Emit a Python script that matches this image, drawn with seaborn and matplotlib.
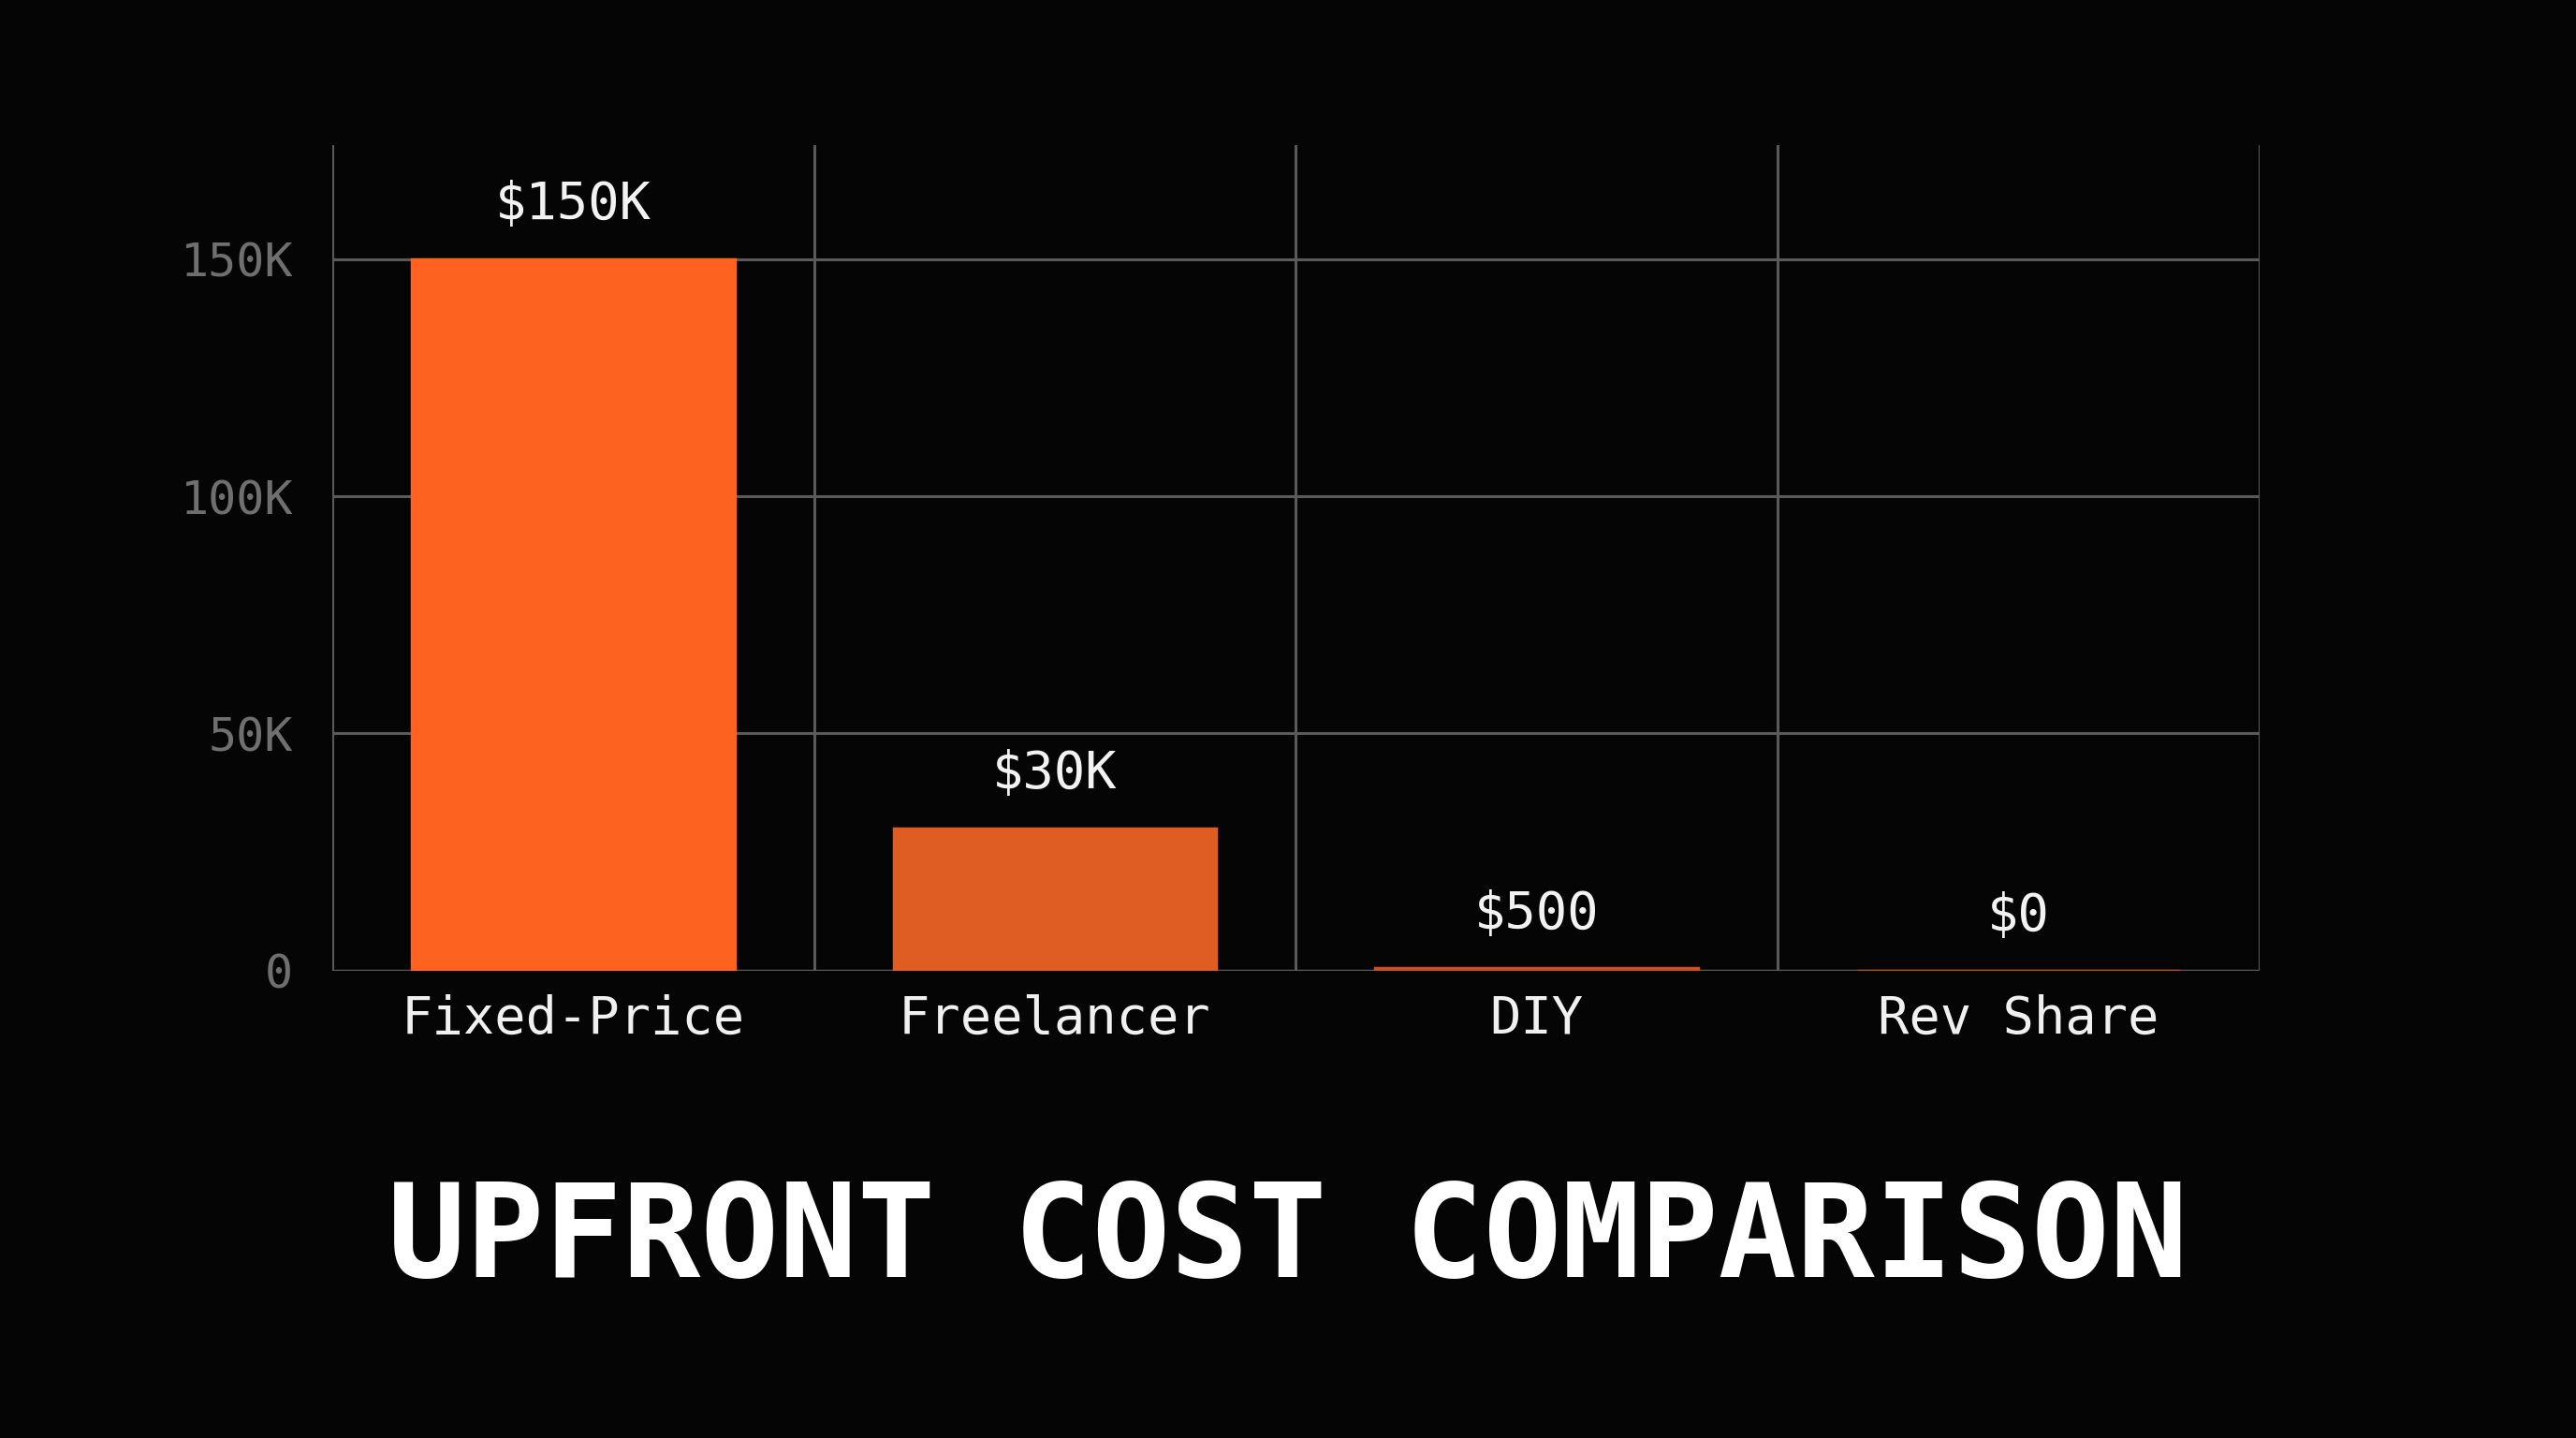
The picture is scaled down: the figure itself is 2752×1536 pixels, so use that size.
import matplotlib
matplotlib.use("Agg")
import matplotlib.pyplot as plt
import seaborn as sns
import pandas as pd

categories = ["Fixed-Price", "Freelancer", "DIY", "Rev Share"]
values = [150000, 30000, 500, 0]
labels = ["$150K", "$30K", "$500", "$0"]
colors = ["#FD6220", "#DF5D22", "#C9501F", "#C04A1C"]
yticks = [0, 50000, 100000, 150000]
yticklabels = ["0", "50K", "100K", "150K"]

sns.set_theme(style="dark")
plt.rcParams["font.family"] = ["DejaVu Sans Mono"]
bg = "#050505"
fig = plt.figure(figsize=(27.52, 15.36), dpi=100, facecolor=bg)
ax = fig.add_axes([0.129, 0.325, 0.748, 0.574], facecolor=bg)
df = pd.DataFrame({"cat": categories, "val": values})
sns.barplot(data=df, x="cat", y="val", hue="cat", palette=colors, legend=False,
            width=0.67, ax=ax, linewidth=2.5, saturation=1)
for p, c in zip(ax.patches, colors):
    p.set_edgecolor(c)
ax.set_xlim(-0.5, 3.5)
ax.set_ylim(0, 174000)
ax.set_yticks(yticks)
ax.set_yticklabels(yticklabels, color="#6f6f6f", fontsize=36)
ax.tick_params(axis="x", colors="#f0f0f0", labelsize=40, length=0, pad=18)
ax.tick_params(axis="y", length=0, pad=30)
ax.set_xlabel(""); ax.set_ylabel("")
ax.grid(False)
for y in yticks[1:]:
    ax.axhline(y, color="#5a5a5a", lw=2.2, zorder=0)
for x in [-0.5, 0.5, 1.5, 2.5, 3.5]:
    ax.axvline(x, color="#5a5a5a", lw=2.2, zorder=0)
ax.axhline(0, color="#5a5a5a", lw=2.5, zorder=0)
for s in ax.spines.values():
    s.set_visible(False)
for i, (v, l) in enumerate(zip(values, labels)):
    ax.text(i, v + 6000, l, ha="center", va="bottom", color="#f2f2f2", fontsize=40)
fig.text(0.5, 0.137, "UPFRONT COST COMPARISON", ha="center", va="center",
         color="#ffffff", fontsize=100, fontweight="bold")
fig.savefig("out.png", dpi=100, facecolor=bg)
